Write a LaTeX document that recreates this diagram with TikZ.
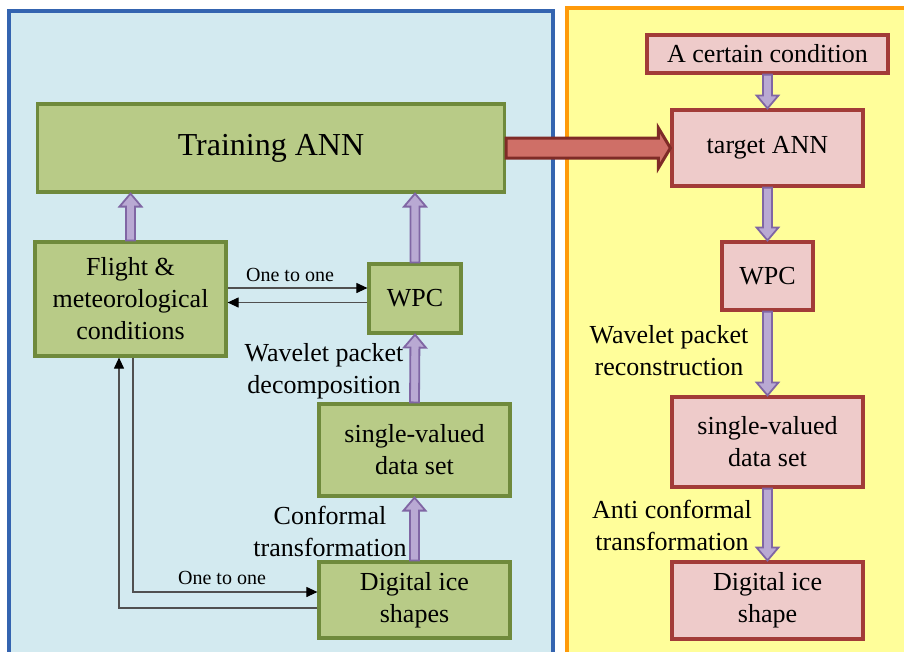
\documentclass[tikz,border=0pt]{standalone}
\usepackage{fontspec}
\setmainfont{Liberation Serif}
\usetikzlibrary{calc,arrows.meta}

\definecolor{bluefill}{HTML}{D3EAF0}
\definecolor{blueline}{HTML}{3464B0}
\definecolor{yellowfill}{HTML}{FFFE9A}
\definecolor{orangeline}{HTML}{FF9A0A}
\definecolor{greenfill}{HTML}{B8CB87}
\definecolor{greenline}{HTML}{6F8A3C}
\definecolor{pinkfill}{HTML}{EECBCA}
\definecolor{redline}{HTML}{A23C38}
\definecolor{purplefill}{HTML}{B9A9D3}
\definecolor{purpleline}{HTML}{8066A4}
\definecolor{redarrowfill}{HTML}{CF6F67}
\definecolor{redarrowline}{HTML}{7F2B27}
\definecolor{connline}{HTML}{505050}

% block arrow from #2 to #3, drawn with style #1
\newcommand\bashaft{4.5pt}
\newcommand\bawing{11pt}
\newcommand\bahead{13pt}
\newcommand\blockarrow[3]{%
  \coordinate (ba-h) at ($(#3)!\bahead!(#2)$);
  \draw[#1] ($(#2)!\bashaft!90:(#3)$) -- ($(ba-h)!\bashaft!-90:(#2)$)
    -- ($(ba-h)!\bawing!-90:(#2)$) -- (#3)
    -- ($(ba-h)!\bawing!90:(#2)$) -- ($(ba-h)!\bashaft!90:(#2)$)
    -- ($(#2)!\bashaft!-90:(#3)$) -- cycle;
}

\tikzset{
  box/.style={draw, line width=3.2pt, align=center, inner sep=0pt,
    font=\fontsize{26}{32}\selectfont},
  greenbox/.style={box, draw=greenline, fill=greenfill},
  pinkbox/.style={box, draw=redline, fill=pinkfill},
  lbl/.style={align=center, inner sep=0pt, font=\fontsize{26}{32}\selectfont},
  small/.style={inner sep=0pt, font=\fontsize{20}{24}\selectfont},
  conn/.style={draw=connline, line width=1.1pt,
    -{Triangle[length=11pt,width=10pt,fill=black,color=black]}},
  hollow/.style={fill=purplefill, draw=purpleline, line width=1.8pt, line join=miter},
  bigred/.style={fill=redarrowfill, draw=redarrowline, line width=3pt, line join=miter},
}

\begin{document}
\begin{tikzpicture}[x=1pt,y=-1pt]
\useasboundingbox (0,0) rectangle (904,651);
\clip (0,0) rectangle (904,651);

% two panels
\draw[fill=bluefill, draw=blueline, line width=3.2pt] (9,11) rectangle (553,680);
\draw[fill=yellowfill, draw=orangeline, line width=3.2pt] (567,8) rectangle (930,680);

% training side
\node[greenbox, minimum width=467pt, minimum height=88pt,
  font=\fontsize{32}{38}\selectfont] (train) at (271,148) {Training ANN};
\node[greenbox, minimum width=191pt, minimum height=114pt] (flight) at (130.5,299)
  {Flight \&\\meteorological\\conditions};
\node[greenbox, minimum width=92pt, minimum height=69pt] (wpcL) at (415,298.5) {WPC};
\node[greenbox, minimum width=191pt, minimum height=92pt] (svL) at (414.5,450)
  {single-valued\\data set};
\node[greenbox, minimum width=191pt, minimum height=76pt] (digL) at (414.5,600)
  {Digital ice\\shapes};

% application side
\node[pinkbox, minimum width=241pt, minimum height=38pt] (cond) at (767.5,54)
  {A certain condition};
\node[pinkbox, minimum width=191pt, minimum height=76pt] (target) at (767.5,148)
  {target ANN};
\node[pinkbox, minimum width=91pt, minimum height=68pt] (wpcR) at (767.5,276) {WPC};
\node[pinkbox, minimum width=191pt, minimum height=90pt] (svR) at (767.5,442)
  {single-valued\\data set};
\node[pinkbox, minimum width=191pt, minimum height=77pt] (digR) at (767.5,600.5)
  {Digital ice\\shape};

% text beside the arrows
\node[lbl] (lwpd) at (324,371) {Wavelet packet\\decomposition};
\node[lbl] (lconf) at (330,531) {Conformal\\transformation};
\node[lbl] (lwpr) at (669,351) {Wavelet packet\\reconstruction};
\node[lbl] (lanti) at (672,525) {Anti conformal\\transformation};

% hollow arrows, training side
\coordinate (fl-top) at (train.south -| flight.north);
\blockarrow{hollow}{flight.north}{fl-top}
\blockarrow{hollow}{wpcL.north}{train.south -| wpcL.north}
\blockarrow{hollow}{svL.north}{wpcL.south}
\blockarrow{hollow}{digL.north}{svL.south}

% hollow arrows, application side
\blockarrow{hollow}{cond.south}{target.north}
\blockarrow{hollow}{target.south}{wpcR.north}
\blockarrow{hollow}{wpcR.south}{svR.north}
\blockarrow{hollow}{svR.south}{digR.north}

% transfer of the trained network
\renewcommand\bashaft{10pt}
\renewcommand\bawing{20pt}
\renewcommand\bahead{12pt}
\blockarrow{bigred}{train.east}{target.west}

% one-to-one links
\coordinate (f1) at ([yshift=11pt]flight.east);
\coordinate (w1) at ([yshift=-4pt]wpcL.west);
\draw[conn] (f1) -- (f1 -| wpcL.west);
\draw[conn] (w1) -- (w1 -| flight.east);
\node[small] (oto1) at (290,275) {One to one};

\draw[conn] ([xshift=2.5pt]flight.south) |- ([yshift=8pt]digL.west);
\draw[conn] ([yshift=-8pt]digL.west) -| ([xshift=-11.5pt]flight.south);
\node[small] (oto2) at (222,578) {One to one};
\end{tikzpicture}
\end{document}
